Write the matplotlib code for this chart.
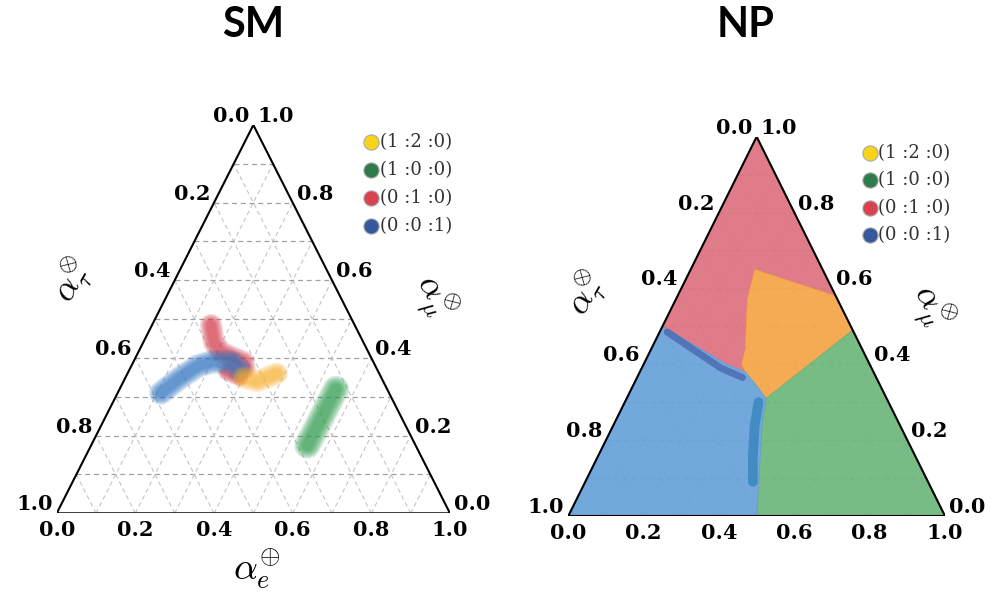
import matplotlib.pyplot as plt
from matplotlib.patches import Polygon
from matplotlib import transforms

plt.rcParams['mathtext.fontset'] = 'cm'

# every point is (alpha_e, alpha_mu); alpha_tau = 1 - e - mu
tick_vals = [0.0, 0.2, 0.4, 0.6, 0.8, 1.0]
tick_text = ['0.0', '0.2', '0.4', '0.6', '0.8', '1.0']
legend_labels = ['(1 :2 :0)', '(1 :0 :0)', '(0 :1 :0)', '(0 :0 :1)']
legend_colors = ['#f7d31a', '#2f7b4c', '#d9424f', '#36589c']

# SM panel: the point clouds, traced as bands
sm_red_e = [0.15, 0.18, 0.21, 0.25, 0.28, 0.29]
sm_red_mu = [0.485, 0.44, 0.415, 0.40, 0.39, 0.375]
sm_red2_e = [0.25, 0.29]
sm_red2_mu = [0.365, 0.35]
sm_blue_e = [0.11, 0.14, 0.17, 0.20, 0.25, 0.28]
sm_blue_mu = [0.31, 0.35, 0.38, 0.39, 0.39, 0.37]
sm_yellow_e = [0.30, 0.34, 0.36, 0.38]
sm_yellow_mu = [0.35, 0.34, 0.35, 0.36]
sm_green_e = [0.55, 0.55]
sm_green_mu = [0.175, 0.32]

# NP panel: regions of the four textures
np_red_e = [0.0, 0.42, 0.17, 0.19, 0.25, 0.26, 0.28, 0.22, 0.11, 0.0]
np_red_mu = [1.0, 0.58, 0.65, 0.57, 0.44, 0.40, 0.38, 0.40, 0.45, 0.5]
np_orange_e = [0.17, 0.42, 0.51, 0.37, 0.32, 0.28, 0.26, 0.25, 0.19]
np_orange_mu = [0.65, 0.58, 0.49, 0.31, 0.35, 0.38, 0.40, 0.44, 0.57]
np_green_e = [0.51, 1.0, 0.5, 0.43, 0.39, 0.37]
np_green_mu = [0.49, 0.0, 0.0, 0.16, 0.25, 0.31]
np_blue_e = [0.0, 0.11, 0.22, 0.28, 0.32, 0.37, 0.39, 0.43, 0.5, 0.0]
np_blue_mu = [0.5, 0.45, 0.40, 0.38, 0.35, 0.31, 0.25, 0.16, 0.0, 0.0]
# darker overlap strips along two borders
np_strip1_e = [0.02, 0.11, 0.21, 0.28]
np_strip1_mu = [0.485, 0.44, 0.39, 0.365]
np_strip2_e = [0.355, 0.375, 0.41, 0.445]
np_strip2_mu = [0.30, 0.24, 0.16, 0.09]


def xy(e, mu):
    return [a + b / 2 for a, b in zip(e, mu)], list(mu)


def band(ax, e, mu, color, width):
    x, y = xy(e, mu)
    for k in [1.0, 0.88, 0.76, 0.64, 0.52, 0.4]:
        ax.plot(x, y, color=color, lw=width * k, alpha=0.2,
                solid_capstyle='round', solid_joinstyle='round', zorder=3)


def frame(ax, fig, grid_alpha):
    ax.set_xlim(0, 1)
    ax.set_ylim(0, 1)
    ax.axis('off')
    for i in range(1, 10):
        v = i / 10
        ax.plot([v / 2, 1 - v / 2], [v, v], ls=(0, (4, 3)), color='#a0a0a0',
                lw=0.9, alpha=grid_alpha, zorder=1)
        ax.plot([v, v + (1 - v) / 2], [0, 1 - v], ls=(0, (4, 3)), color='#c4c4c4',
                lw=0.8, alpha=grid_alpha, zorder=1)
        ax.plot([1 - v, (1 - v) / 2], [0, 1 - v], ls=(0, (4, 3)), color='#c4c4c4',
                lw=0.8, alpha=grid_alpha, zorder=1)
    ax.plot([0, 1, 0.5, 0], [0, 0, 1, 0], color='black', lw=1.5, zorder=5,
            solid_joinstyle='miter')
    kw = dict(fontsize=15, family='DejaVu Serif', weight='bold', clip_on=False)
    for v, t in zip(tick_vals, tick_text):
        tr = transforms.offset_copy(ax.transData, fig, -4, 9, units='dots')
        ax.text((1 - v) / 2, 1 - v, t, transform=tr, ha='right', va='center', **kw)
        tr = transforms.offset_copy(ax.transData, fig, 4, 9, units='dots')
        ax.text(1 - v / 2, v, t, transform=tr, ha='left', va='center', **kw)
        tr = transforms.offset_copy(ax.transData, fig, 0, -7, units='dots')
        ax.text(v, 0, t, transform=tr, ha='center', va='top', **kw)
    for i, (lab, c) in enumerate(zip(legend_labels, legend_colors)):
        yy = 0.957 - i * 0.0723
        ax.scatter([0.800], [yy], s=120, color=c, edgecolor='#aaaaaa', lw=0.8,
                   transform=ax.transAxes, clip_on=False, zorder=6)
        ax.text(0.822, yy, lab, transform=ax.transAxes, ha='left', va='center',
                fontsize=13, family='DejaVu Serif', color='#333333')


fig = plt.figure(figsize=(10, 5.95), dpi=100)
ax1 = fig.add_axes([0.0567, 0.1373, 0.3933, 0.6526])
ax2 = fig.add_axes([0.5683, 0.1328, 0.3767, 0.6375])

# SM
frame(ax1, fig, 1.0)
band(ax1, sm_red_e, sm_red_mu, '#d43a4a', 16)
band(ax1, sm_red2_e, sm_red2_mu, '#d43a4a', 13)
band(ax1, sm_blue_e, sm_blue_mu, '#2f74c0', 17)
band(ax1, sm_yellow_e, sm_yellow_mu, '#f8b030', 16)
band(ax1, sm_green_e, sm_green_mu, '#2e9a4e', 19)

# NP
frame(ax2, fig, 0.5)
for e, mu, c in [(np_red_e, np_red_mu, '#dc6a79'),
                 (np_orange_e, np_orange_mu, '#f4a03c'),
                 (np_green_e, np_green_mu, '#63b373'),
                 (np_blue_e, np_blue_mu, '#5f9cd8')]:
    x, y = xy(e, mu)
    ax2.add_patch(Polygon(list(zip(x, y)), closed=True, facecolor=c,
                          edgecolor=c, lw=0.5, alpha=0.88, zorder=2))
x, y = xy(np_strip1_e, np_strip1_mu)
ax2.plot(x, y, color='#4560aa', lw=5, alpha=0.7, solid_capstyle='round', zorder=3)
x, y = xy(np_strip2_e, np_strip2_mu)
ax2.plot(x, y, color='#2a7db6', lw=7, alpha=0.65, solid_capstyle='round', zorder=3)

# axis titles
fig.text(0.073, 1 - 280 / 595, r'$\alpha_\tau^{\otimes}$', rotation=60, fontsize=25,
         ha='center', va='center')
fig.text(0.433, 1 - 297 / 595, r'$\alpha_\mu^{\otimes}$', rotation=-60, fontsize=25,
         ha='center', va='center')
fig.text(0.257, 1 - 570 / 595, r'$\alpha_e^{\oplus}$', fontsize=27,
         ha='center', va='center')
fig.text(0.587, 1 - 293 / 595, r'$\alpha_\tau^{\otimes}$', rotation=60, fontsize=25,
         ha='center', va='center')
fig.text(0.930, 1 - 307 / 595, r'$\alpha_\mu^{\otimes}$', rotation=-60, fontsize=25,
         ha='center', va='center')

fig.text(0.253, 1 - 25 / 595, 'SM', fontsize=30, family='Lato', weight='bold',
         ha='center', va='center')
fig.text(0.746, 1 - 25 / 595, 'NP', fontsize=30, family='Lato', weight='bold',
         ha='center', va='center')

fig.savefig('out.png', dpi=100)
